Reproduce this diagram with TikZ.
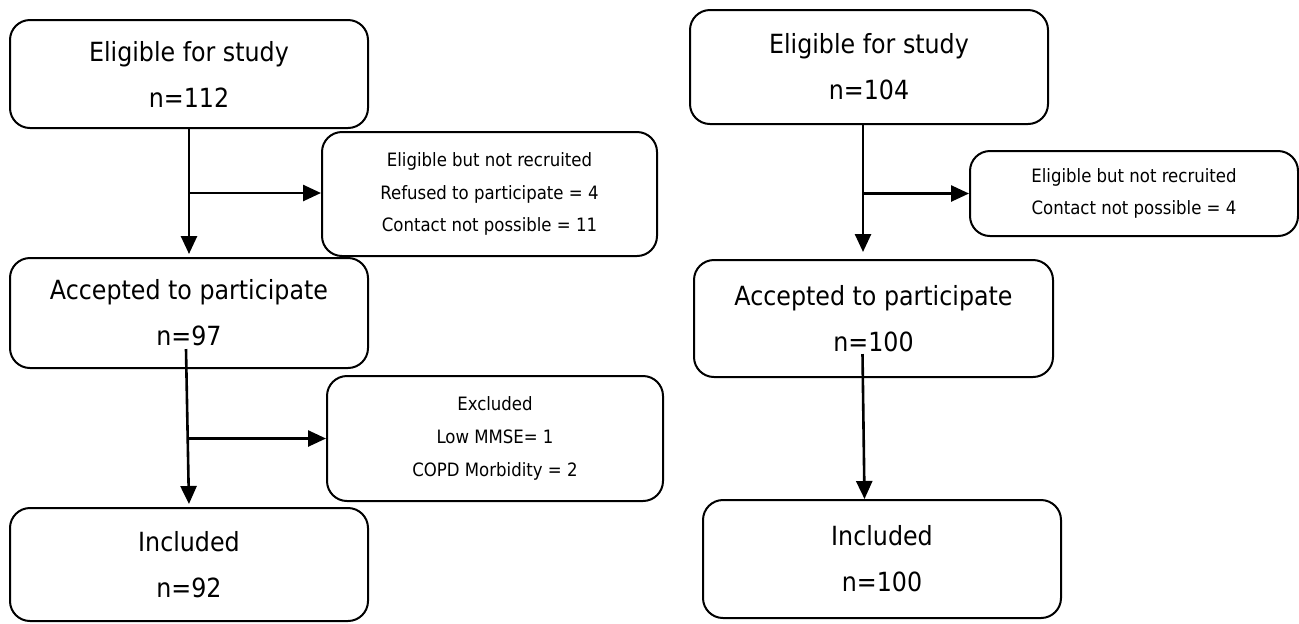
\documentclass[tikz,border=0pt]{standalone}
\usepackage{fontspec}
\setmainfont{DejaVu Sans Condensed}
\usetikzlibrary{calc}
\usetikzlibrary{arrows.meta}
\tikzset{
	box/.style={draw, line width=1pt, rounded corners=10pt, inner sep=0pt,
		align=center, font=\fontsize{13.2}{23}\selectfont},
	note/.style={box, font=\fontsize{9.2}{16.3}\selectfont},
	flow/.style={line width=1.3pt, -{Triangle[length=9pt,width=8pt]}}
}

\begin{document}
\begin{tikzpicture}[x=0.5pt,y=-0.5pt]
		\useasboundingbox (0,0) rectangle (1299,623);
%		first group
		\node[box, minimum width=179pt, minimum height=54pt] (a1) at (189,74)
		{Eligible for study\\n=112};
		\node[note, minimum width=167.5pt, minimum height=62pt] (b1) at (489.5,194)
		{Eligible but not recruited\\Refused to participate = 4\\Contact not possible = 11};
		\node[box, minimum width=179pt, minimum height=55pt] (a2) at (189,313)
		{Accepted to participate\\n=97};
		\node[note, minimum width=168pt, minimum height=62.5pt] (b2) at (495,438.5)
		{Excluded\\Low MMSE= 1\\COPD Morbidity = 2};
		\node[box, minimum width=179pt, minimum height=56.5pt] (a3) at (189,564.5)
		{Included\\n=92};
%		arrows
		\coordinate (j1) at ($(a1.south)!0.5!(a2.north)$);
		\draw[flow, shorten >=1.5pt] (a1.south) -- (a2.north);
		\draw[flow] (j1) -- (j1 -| b1.west);
		\coordinate (s2) at ($(a2.south)+(-3,-20)$);
		\draw[flow, shorten >=1.5pt] (s2) -- (a3.north);
		\draw[flow] (a2.south |- b2.west) -- (b2.west);

%		second group
		\node[box, minimum width=179pt, minimum height=57pt] (c1) at (869,67)
		{Eligible for study\\n=104};
		\node[note, minimum width=164pt, minimum height=42.5pt] (d1) at (1134,193.5)
		{Eligible but not recruited\\Contact not possible = 4};
		\node[box, minimum width=179.5pt, minimum height=58.5pt] (c2) at (873.5,318.5)
		{Accepted to participate\\n=100};
		\node[box, minimum width=179pt, minimum height=59pt] (c3) at (882,559)
		{Included\\n=100};
%		arrows
		\coordinate (r1) at ($(c1.south)+(-6,0)$);
		\draw[flow, shorten >=3.5pt] (r1) -- (r1 |- c2.north);
		\draw[flow] (r1 |- d1.west) -- (d1.west);
		\coordinate (r2) at ($(c2.south)+(-11,-24)$);
		\draw[flow] (r2) -- ($(r2 |- c3.north)+(2,0)$);
	\end{tikzpicture}
\end{document}
